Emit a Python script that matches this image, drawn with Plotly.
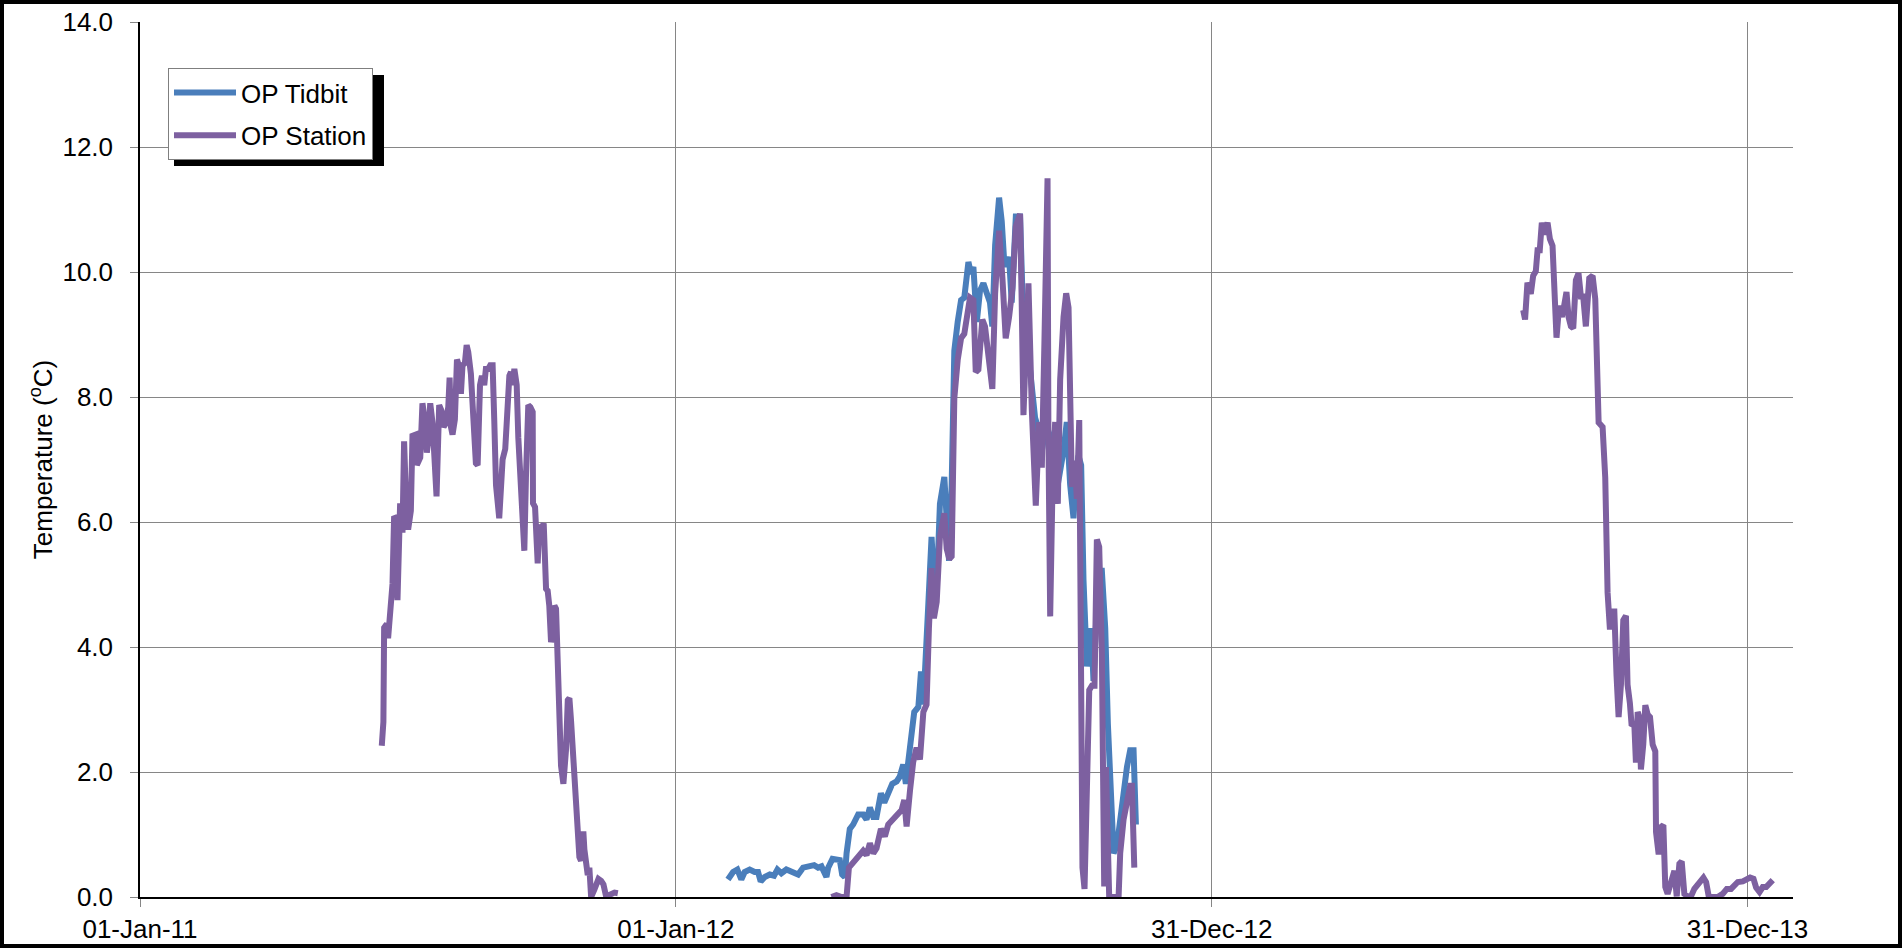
import pandas as pd
import plotly.graph_objects as go

BASE_DATE = "2011-01-01"

# ---- data: day offsets from 01-Jan-2011 and temperature (deg C) ----
station_2011_day = [164.7, 165.8, 166.3, 168.1, 169.0, 170.2, 172.0, 173.1, 174.3, 175.4,
                    176.5, 177.2, 178.8, 179.9, 181.8, 182.9, 184.5, 185.6, 187.9, 188.6,
                    190.9, 192.4, 193.6, 195.4, 196.3, 197.7, 199.3, 200.4, 202.0, 203.8,
                    205.4, 206.8, 208.4, 210.0, 210.9, 211.8, 212.9, 214.5, 215.9, 217.5,
                    218.6, 219.7, 221.3, 222.5, 223.6, 225.4, 226.6, 228.8, 230.0, 231.6,
                    232.9, 234.5, 235.6, 237.2, 238.6, 240.2, 241.3, 242.5, 244.7, 245.9,
                    247.0, 248.8, 250.0, 251.6, 252.7, 253.8, 255.0, 256.6, 257.7, 259.5,
                    260.7, 261.8, 262.9, 264.5, 265.9, 267.5, 267.7, 269.1, 270.9, 272.0,
                    273.6, 275.0, 276.6, 277.7, 278.8, 280.0, 281.1, 282.3, 283.4, 285.7,
                    286.8, 288.4, 290.2, 291.4, 292.5, 293.6, 295.4, 297.0, 298.2, 299.3,
                    300.4, 302.0, 302.7, 303.9, 305.0, 306.1, 307.3, 309.5, 312.3, 314.1,
                    315.7, 317.5, 319.1, 320.9, 323.2, 325.5]
station_2011_temp = [2.42, 2.80, 4.31, 4.37, 4.14, 4.43, 5.01, 6.09, 6.06, 4.75,
                     6.00, 6.30, 5.83, 7.29, 5.92, 5.92, 6.18, 7.38, 7.40, 6.91,
                     7.03, 7.90, 7.70, 7.11, 7.29, 7.90, 7.58, 7.23, 6.41, 7.87,
                     7.78, 7.52, 7.58, 7.84, 8.31, 7.52, 7.40, 7.64, 8.60, 8.48,
                     8.05, 8.51, 8.54, 8.83, 8.72, 8.37, 7.87, 6.94, 6.91, 8.19,
                     8.34, 8.19, 8.45, 8.45, 8.51, 8.51, 7.64, 6.59, 6.06, 6.59,
                     7.00, 7.17, 7.70, 8.34, 8.40, 8.19, 8.45, 8.19, 7.35, 6.41,
                     6.06, 5.54, 6.71, 7.87, 7.84, 7.76, 6.30, 6.24, 5.34, 5.95,
                     5.89, 5.98, 4.93, 4.90, 4.66, 4.08, 4.20, 4.66, 4.61, 3.15,
                     2.10, 1.81, 2.36, 3.15, 3.18, 2.83, 2.10, 1.34, 0.82, 0.64,
                     0.58, 1.05, 0.76, 0.47, 0.35, 0.47, 0.00, 0.12, 0.29, 0.26,
                     0.20, 0.01, 0.03, 0.06, 0.07, 0.06]

station_2012_day = [471.0, 474.4, 477.9, 481.3, 482.9, 485.8, 489.2, 492.6, 494.9, 497.2,
                    499.5, 501.7, 504.7, 507.4, 509.7, 513.1, 516.5, 518.8, 520.6, 522.2,
                    524.5, 526.7, 529.0, 531.3, 533.6, 535.8, 537.4, 539.2, 540.8, 542.7,
                    544.9, 547.9, 549.5, 551.3,
                    552.9, 554.7, 557.0, 559.3, 561.5, 563.1, 565.4, 567.7, 569.3, 571.1,
                    573.8, 575.6, 577.9, 580.6, 582.5, 585.2, 587.5, 589.7, 592.0, 594.3,
                    596.6, 599.5, 600.6, 601.8, 603.4, 605.2, 607.5, 610.2, 612.5, 614.3,
                    616.1, 618.2, 618.8, 620.0, 621.6, 623.4, 625.2, 626.8, 629.1, 630.9,
                    632.5, 633.6, 634.8, 636.6, 638.2, 639.8, 641.1, 642.0, 643.4, 645.0,
                    646.6, 648.4, 650.2, 651.8, 653.4, 655.2, 656.8, 658.0, 659.3, 660.2,
                    666.6, 667.7, 670.0, 672.3, 674.5, 675.7, 677.3]
station_2012_temp = [0.00, 0.03, 0.00, 0.00, 0.47, 0.55, 0.68, 0.74, 0.67, 0.86,
                     0.70, 0.78, 1.09, 0.97, 1.16, 1.24, 1.32, 1.39, 1.55, 1.13,
                     1.70, 2.16, 2.39, 2.20, 2.96, 3.08, 4.30, 5.26, 4.46, 4.72,
                     5.76, 6.14, 5.57, 5.41,
                     5.45, 7.98, 8.59, 8.94, 9.01, 9.28, 9.59, 9.55, 8.40, 8.44,
                     9.24, 9.13, 8.67, 8.13, 9.66, 10.66, 9.89, 8.94, 9.28, 9.74,
                     10.73, 10.93, 9.51, 7.71, 8.74, 9.82, 7.79, 6.26, 7.60, 6.87,
                     8.90, 11.50, 7.37, 4.49, 6.60, 7.60, 6.29, 8.28, 9.28, 9.66,
                     9.43, 7.67, 6.56, 6.98, 6.37, 7.63, 4.30, 0.47, 0.13, 2.01,
                     3.31, 3.38, 3.38, 5.72, 5.60, 3.92, 0.17, 2.08, 1.24, 0.00,
                     0.00, 0.70, 1.24, 1.47, 1.78, 1.78, 0.47]

station_2013_day = [942.2, 943.5, 945.1, 947.4, 949.0, 950.8, 952.0, 953.5, 954.9, 956.5,
                    958.8, 960.4, 962.2, 963.3, 964.9, 966.7, 968.6, 970.1, 971.7, 973.1,
                    974.7, 976.3, 978.1, 979.9, 981.5, 983.1, 984.9, 987.2, 989.5, 991.3,
                    992.2, 993.6, 996.3, 998.1, 999.7, 1001.3, 1002.7, 1004.3, 1005.8, 1007.2,
                    1008.8, 1010.4, 1012.2, 1013.3, 1014.9, 1016.1, 1017.9, 1019.0, 1020.2, 1021.3,
                    1022.4, 1024.0, 1025.4, 1027.0, 1028.6, 1030.4, 1032.2, 1032.7, 1034.5, 1036.1,
                    1037.7, 1039.0, 1040.6, 1042.9, 1045.2, 1046.8, 1048.6, 1050.2, 1052.0, 1054.3,
                    1056.5, 1058.8, 1061.1, 1063.4, 1065.0, 1066.8, 1068.6, 1070.2, 1074.7, 1078.1,
                    1080.9, 1083.8, 1086.1, 1088.4, 1091.8, 1094.1, 1096.8, 1099.1, 1100.9, 1103.2,
                    1105.4, 1107.7, 1109.5, 1112.2]
station_2013_temp = [9.39, 9.24, 9.83, 9.65, 9.94, 10.01, 10.35, 10.35, 10.79, 10.60,
                     10.79, 10.53, 10.42, 9.65, 8.95, 9.46, 9.28, 9.46, 9.68, 9.28,
                     9.13, 9.10, 9.87, 9.98, 9.61, 9.61, 9.13, 9.90, 9.94, 9.57,
                     8.54, 7.59, 7.52, 6.71, 4.87, 4.28, 4.57, 4.57, 3.54, 2.88,
                     3.40, 4.43, 4.50, 3.40, 3.10, 2.74, 2.77, 2.15, 2.96, 2.88,
                     2.04, 2.44, 3.07, 2.92, 2.88, 2.44, 2.33, 1.04, 0.68, 1.12,
                     1.15, 0.16, 0.05, 0.24, 0.42, 0.01, 0.53, 0.57, 0.05, 0.01,
                     0.01, 0.13, 0.20, 0.24, 0.31, 0.24, 0.01, 0.00, 0.00, 0.05,
                     0.13, 0.13, 0.20, 0.24, 0.25, 0.27, 0.31, 0.29, 0.15, 0.08,
                     0.16, 0.16, 0.20, 0.27]

tidbit_2012_day = [400.5, 404.0, 406.9, 409.6, 411.9, 415.3, 418.7, 421.0, 422.8, 425.6,
                   429.0, 431.9, 434.2, 436.9, 440.3, 443.7, 448.3, 451.7, 455.6, 459.2,
                   461.9, 464.2, 467.6, 468.8, 471.7, 474.4, 476.7, 478.3, 480.1, 481.3,
                   483.5, 485.8, 489.2, 492.6, 494.9, 497.2, 499.5, 501.7, 504.7, 507.0,
                   509.7, 512.4, 515.4, 517.6, 519.9, 521.7, 523.3, 525.6, 527.4, 530.2,
                   532.0, 533.6, 535.2, 537.0, 539.2, 540.8, 542.7, 544.9, 547.9, 549.5,
                   551.1,
                   552.9, 554.7, 557.0, 559.3, 561.5, 564.3, 566.1, 567.7, 570.0, 572.2,
                   574.5, 576.8, 579.0, 580.6, 582.5, 585.2, 587.0, 588.8, 590.4, 592.0,
                   593.8, 596.6, 599.5, 601.1, 603.4, 605.6, 607.5, 609.7, 611.6, 613.2,
                   615.4, 617.7, 620.0, 622.2, 625.2, 627.5, 629.1, 631.3, 633.6, 635.9,
                   637.5, 639.3, 641.1, 642.7, 645.0, 648.0, 649.5, 651.1, 652.9, 655.2,
                   657.5, 659.3, 660.9, 663.2, 665.5, 667.7, 670.0, 672.3, 674.5, 676.8,
                   678.4]
tidbit_2012_temp = [0.28, 0.40, 0.44, 0.28, 0.40, 0.44, 0.40, 0.40, 0.25, 0.32,
                    0.36, 0.34, 0.44, 0.38, 0.44, 0.40, 0.36, 0.47, 0.49, 0.51,
                    0.47, 0.49, 0.32, 0.47, 0.61, 0.59, 0.59, 0.36, 0.32, 0.70,
                    1.09, 1.16, 1.32, 1.32, 1.24, 1.43, 1.28, 1.28, 1.66, 1.51,
                    1.66, 1.81, 1.85, 1.93, 2.12, 1.81, 2.16, 2.54, 2.96, 3.04,
                    3.61, 3.08, 3.69, 4.69, 5.76, 5.07, 4.92, 6.29, 6.72, 5.83,
                    5.38,
                    6.60, 8.74, 9.20, 9.55, 9.59, 10.16, 9.97, 10.08, 9.20, 9.70,
                    9.82, 9.66, 9.51, 9.13, 10.43, 11.19, 10.81, 10.12, 10.12, 10.24,
                    9.51, 10.89, 10.89, 9.66, 8.74, 8.59, 8.13, 7.67, 7.52, 6.98,
                    7.29, 7.52, 7.37, 6.60, 6.60, 6.91, 7.14, 7.60, 6.60, 6.06,
                    6.75, 7.06, 6.91, 5.07, 3.69, 4.30, 3.46, 4.30, 5.22, 5.22,
                    4.30, 2.77, 1.78, 0.70, 0.82, 1.24, 1.70, 2.08, 2.35, 2.35,
                    1.16]

series_names = ["OP Tidbit", "OP Station"]
series_colors = ["#4A7EBB", "#7D60A0"]

x_tick_days = [0, 365, 730, 1095]
x_tick_labels = ["01-Jan-11", "01-Jan-12", "31-Dec-12", "31-Dec-13"]
x_range_days = [0, 1126]
y_range = [0, 14]
y_tick_vals = [0, 2, 4, 6, 8, 10, 12, 14]
y_title = "Temperature (<sup>o</sup>C)"

for a, b in [(station_2011_day, station_2011_temp), (station_2012_day, station_2012_temp),
             (station_2013_day, station_2013_temp), (tidbit_2012_day, tidbit_2012_temp)]:
    assert len(a) == len(b), (len(a), len(b))

base = pd.Timestamp(BASE_DATE)


def to_dates(days):
    return [None if d is None else base + pd.Timedelta(days=d) for d in days]


station_days = station_2011_day + [None] + station_2012_day + [None] + station_2013_day
station_temp = station_2011_temp + [None] + station_2012_temp + [None] + station_2013_temp

FONT = "Liberation Sans, Arial, sans-serif"
GRID = "#868686"
FS = 26

fig = go.Figure()
fig.add_trace(go.Scatter(x=to_dates(tidbit_2012_day), y=tidbit_2012_temp, mode="lines",
                         name=series_names[0], legendgroup="a",
                         line=dict(color=series_colors[0], width=6)))
fig.add_trace(go.Scatter(x=to_dates(station_days), y=station_temp, mode="lines",
                         name=series_names[1], legendgroup="b", connectgaps=False,
                         line=dict(color=series_colors[1], width=6)))

# plot area geometry (px)
L, R, T, B = 140, 109, 22, 51
W, H = 1902, 948
pw, ph = W - L - R, H - T - B


def px_x(p):
    return (p - L) / pw


def px_y(p):
    return (H - B - p) / ph


shapes = [
    # legend shadow
    dict(type="rect", xref="paper", yref="paper",
         x0=px_x(174), x1=px_x(384), y0=px_y(166), y1=px_y(75),
         fillcolor="black", line=dict(width=0), layer="above"),
    # outer chart border
    dict(type="rect", xref="paper", yref="paper",
         x0=px_x(2), x1=px_x(1900), y0=px_y(946), y1=px_y(2),
         line=dict(color="black", width=4), fillcolor="rgba(0,0,0,0)", layer="above"),
]

fig.update_layout(
    width=W, height=H,
    margin=dict(l=L, r=R, t=T, b=B, pad=0),
    paper_bgcolor="white", plot_bgcolor="white",
    font=dict(family=FONT, size=FS, color="black"),
    showlegend=True,
    legend=dict(x=px_x(168), y=px_y(68), xanchor="left", yanchor="top",
                bgcolor="white", bordercolor="#7f7f7f", borderwidth=1,
                font=dict(size=FS, color="black"), tracegroupgap=6,
                traceorder="grouped", itemwidth=62),
    shapes=shapes,
    xaxis=dict(type="date",
               range=to_dates(x_range_days),
               tickmode="array", tickvals=to_dates(x_tick_days), ticktext=x_tick_labels,
               showgrid=True, gridcolor=GRID, gridwidth=1,
               showline=True, linecolor="black", linewidth=1.5,
               ticks="outside", ticklen=8, tickcolor=GRID, tickwidth=1,
               zeroline=False, tickfont=dict(size=FS), automargin=False),
    yaxis=dict(range=y_range, tickmode="array", tickvals=y_tick_vals, tickformat=".1f",
               showgrid=True, gridcolor=GRID, gridwidth=1,
               showline=True, linecolor="black", linewidth=1.5,
               ticks="outside", ticklen=8, tickcolor=GRID, tickwidth=1,
               ticklabelstandoff=12,
               zeroline=False, tickfont=dict(size=FS), automargin=False,
               title=dict(text=y_title, font=dict(size=26), standoff=2)),
)

fig.write_html("out.html", config={"displayModeBar": False},
               post_script="document.body.style.margin='0';document.body.style.overflow='hidden';")
